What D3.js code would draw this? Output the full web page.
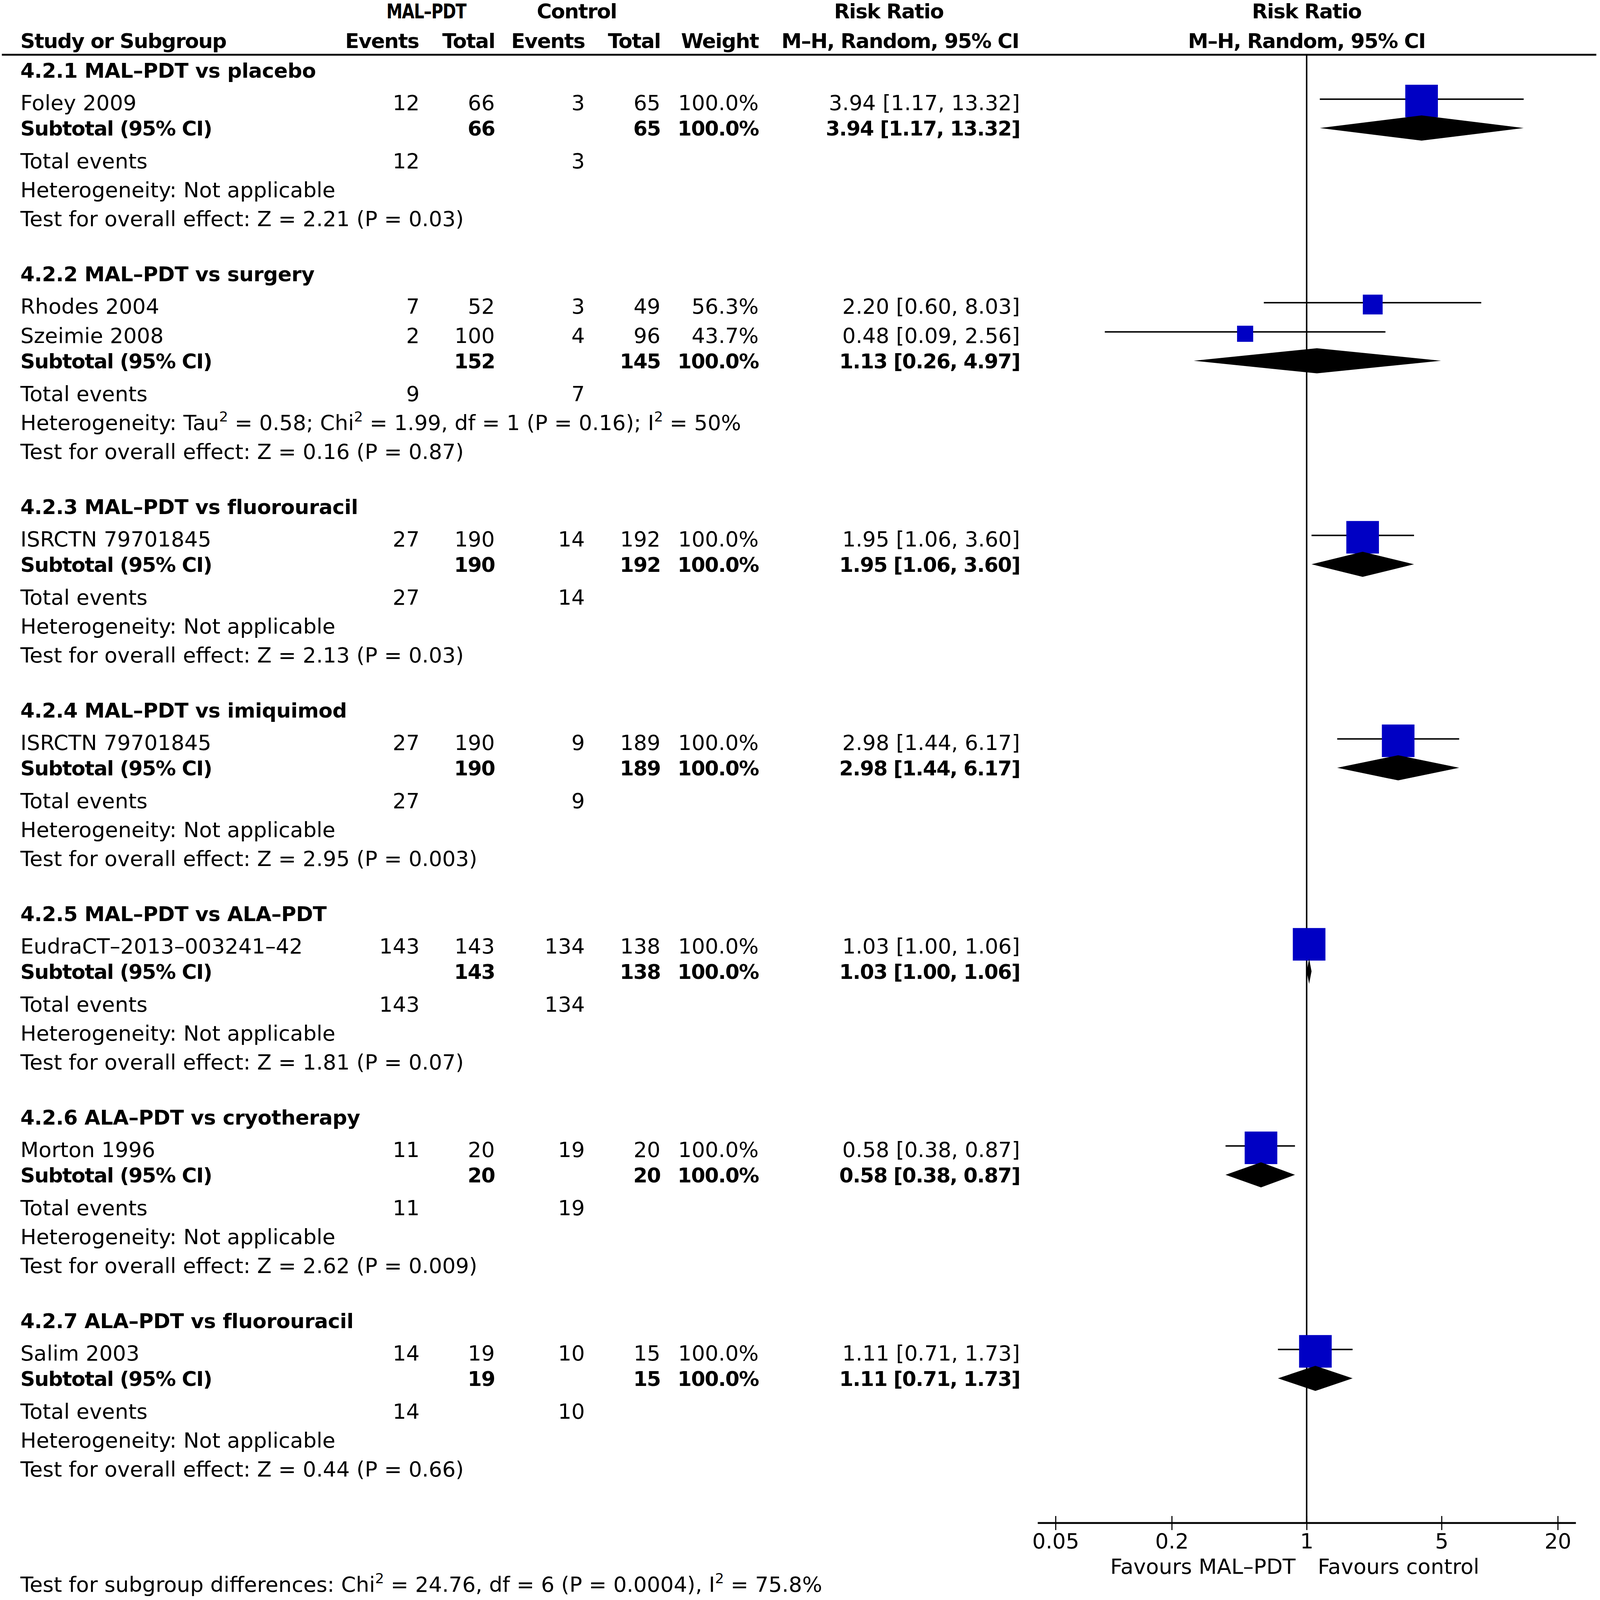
<!DOCTYPE html>
<html>
<head>
<meta charset="utf-8">
<script src="https://cdn.jsdelivr.net/npm/d3@7"></script>
<style>
  html, body { margin: 0; padding: 0; width: 100%; height: 100%; overflow: hidden; background: #fff; }
  svg { display: block; width: 100vw; height: 100vh; }
  text { font-family: "DejaVu Sans", sans-serif; font-size: 57px; fill: #000; }
  .b { font-weight: bold; font-size: 55px; letter-spacing: -1.7px; }
  .title { letter-spacing: -0.45px; }
</style>
</head>
<body>
<script>
// subgroups
const subgroupTitles = [
  '4.2.1 MAL–PDT vs placebo',
  '4.2.2 MAL–PDT vs surgery',
  '4.2.3 MAL–PDT vs fluorouracil',
  '4.2.4 MAL–PDT vs imiquimod',
  '4.2.5 MAL–PDT vs ALA–PDT',
  '4.2.6 ALA–PDT vs cryotherapy',
  '4.2.7 ALA–PDT vs fluorouracil'
];

// studies
const studyNames  = ['Foley 2009', 'Rhodes 2004', 'Szeimie 2008', 'ISRCTN 79701845', 'ISRCTN 79701845', 'EudraCT–2013–003241–42', 'Morton 1996', 'Salim 2003'];
const studyGroup  = [0, 1, 1, 2, 3, 4, 5, 6];
const malEvents   = [12, 7, 2, 27, 27, 143, 11, 14];
const malTotal    = [66, 52, 100, 190, 190, 143, 20, 19];
const ctlEvents   = [3, 3, 4, 14, 9, 134, 19, 10];
const ctlTotal    = [65, 49, 96, 192, 189, 138, 20, 15];
const studyWeight = [100, 56.3, 43.7, 100, 100, 100, 100, 100];
const studyRR     = [3.94, 2.20, 0.48, 1.95, 2.98, 1.03, 0.58, 1.11];
const studyLo     = [1.17, 0.60, 0.09, 1.06, 1.44, 1.00, 0.38, 0.71];
const studyHi     = [13.32, 8.03, 2.56, 3.60, 6.17, 1.06, 0.87, 1.73];

// subtotals
const subRR = [3.94, 1.13, 1.95, 2.98, 1.03, 0.58, 1.11];
const subLo = [1.17, 0.26, 1.06, 1.44, 1.00, 0.38, 0.71];
const subHi = [13.32, 4.97, 3.60, 6.17, 1.06, 0.87, 1.73];

const heterogeneity = [
  'Not applicable',
  'Tau^2 = 0.58; Chi^2 = 1.99, df = 1 (P = 0.16); I^2 = 50%',
  'Not applicable', 'Not applicable', 'Not applicable', 'Not applicable', 'Not applicable'
];
const overallZ = ['2.21', '0.16', '2.13', '2.95', '1.81', '2.62', '0.44'];
const overallP = ['0.03', '0.87', '0.03', '0.003', '0.07', '0.009', '0.66'];

const axisTicks = [0.05, 0.2, 1, 5, 20];
const subgroupTest = 'Test for subgroup differences: Chi^2 = 24.76, df = 6 (P = 0.0004), I^2 = 75.8%';

const width  = 4317;
const height = 4324;

// column anchors
const col = { label: 55, malEv: 1132, malTot: 1335, ctlEv: 1578, ctlTot: 1782, weight: 2047, rr: 2752 };

const svg = d3.select('body')
  .append('svg')
    .attr('viewBox', [0, 0, width, height])
    .attr('preserveAspectRatio', 'none');

svg.append('rect').attr('width', width).attr('height', height).attr('fill', '#fff');

// scales
const x = d3.scaleLog().domain([0.05, 20]).range([2848, 4203]);
const boxSize = d3.scaleLinear().domain([0, 100]).range([9, 88]);

const fmt = (v) => v.toFixed(2);
const ci  = (r, lo, hi) => `${fmt(r)} [${fmt(lo)}, ${fmt(hi)}]`;

// text with ^2 superscripts
function addText(g, str, px, py, anchor, bold) {
  const t = g.append('text')
    .attr('x', px).attr('y', py)
    .attr('text-anchor', anchor || 'start')
    .classed('b', !!bold);
  const parts = str.split('^2');
  parts.forEach((p, i) => {
    if (i > 0) {
      t.append('tspan').attr('dy', -23).style('font-size', '38px').text('2');
      t.append('tspan').attr('dy', 23).text(p);
    } else {
      t.append('tspan').text(p);
    }
  });
  return t;
}

// header
const head = svg.append('g');
addText(head, 'MAL–PDT', 1150, 50, 'middle', true)
  .attr('textLength', 215).attr('lengthAdjust', 'spacingAndGlyphs');
addText(head, 'Control', 1556, 50, 'middle', true);
addText(head, 'Risk Ratio', 2398, 50, 'middle', true);
addText(head, 'Risk Ratio', x(1), 50, 'middle', true);
addText(head, 'Study or Subgroup', col.label, 130, 'start', true);
addText(head, 'Events', 1130, 130, 'end', true);
addText(head, 'Total', 1335, 130, 'end', true);
addText(head, 'Events', 1578, 130, 'end', true);
addText(head, 'Total', 1782, 130, 'end', true);
addText(head, 'Weight', 2047, 130, 'end', true);
addText(head, 'M–H, Random, 95% CI', 2749, 130, 'end', true);
addText(head, 'M–H, Random, 95% CI', x(1), 130, 'middle', true);

svg.append('line')
  .attr('x1', 5).attr('x2', 4307)
  .attr('y1', 148).attr('y2', 148)
  .attr('stroke', '#000').attr('stroke-width', 5);

// axis
const axisY = 4116;

svg.append('line')
  .attr('x1', x(1)).attr('x2', x(1))
  .attr('y1', 150).attr('y2', axisY)
  .attr('stroke', '#000').attr('stroke-width', 4);

// rows
const body = svg.append('g');
const marks = svg.append('g');
let cursor = 210;

subgroupTitles.forEach((title, g) => {
  addText(body, title, col.label, cursor, 'start', true).classed('title', true);

  const idx = studyGroup.map((sg, i) => (sg === g ? i : -1)).filter((i) => i >= 0);
  let y = cursor + 88;

  idx.forEach((i, k) => {
    if (k > 0) y += 79;
    addText(body, studyNames[i], col.label, y);
    addText(body, String(malEvents[i]), col.malEv, y, 'end');
    addText(body, String(malTotal[i]), col.malTot, y, 'end');
    addText(body, String(ctlEvents[i]), col.ctlEv, y, 'end');
    addText(body, String(ctlTotal[i]), col.ctlTot, y, 'end');
    addText(body, studyWeight[i].toFixed(1) + '%', col.weight, y, 'end');
    addText(body, ci(studyRR[i], studyLo[i], studyHi[i]), col.rr, y, 'end');

    // ci line + box
    marks.append('line')
      .attr('x1', x(studyLo[i])).attr('x2', x(studyHi[i]))
      .attr('y1', y - 30).attr('y2', y - 30)
      .attr('stroke', '#000').attr('stroke-width', 4);
    const s = boxSize(studyWeight[i]);
    marks.append('rect')
      .attr('x', x(studyRR[i]) - s / 2).attr('y', y - 25 - s / 2)
      .attr('width', s).attr('height', s)
      .attr('fill', '#0000c4');
  });

  // subtotal
  const ys = y + 68;
  const n1 = d3.sum(idx, (i) => malTotal[i]);
  const n2 = d3.sum(idx, (i) => ctlTotal[i]);
  addText(body, 'Subtotal (95% CI)', col.label, ys, 'start', true);
  addText(body, String(n1), col.malTot, ys, 'end', true);
  addText(body, String(n2), col.ctlTot, ys, 'end', true);
  addText(body, '100.0%', col.weight, ys, 'end', true);
  addText(body, ci(subRR[g], subLo[g], subHi[g]), col.rr, ys, 'end', true);

  const dy = ys - 20;
  marks.append('path')
    .attr('d', d3.line()([
      [x(subLo[g]), dy], [x(subRR[g]), dy - 34],
      [x(subHi[g]), dy], [x(subRR[g]), dy + 34]
    ]) + 'Z')
    .attr('fill', '#000');

  // total events
  const yt = ys + 89;
  addText(body, 'Total events', col.label, yt);
  addText(body, String(d3.sum(idx, (i) => malEvents[i])), col.malEv, yt, 'end');
  addText(body, String(d3.sum(idx, (i) => ctlEvents[i])), col.ctlEv, yt, 'end');

  const yh = yt + 78;
  addText(body, 'Heterogeneity: ' + heterogeneity[g], col.label, yh);

  const yz = yh + 78;
  addText(body, `Test for overall effect: Z = ${overallZ[g]} (P = ${overallP[g]})`, col.label, yz);

  cursor = yz + 149;
});

const axis = svg.append('g')
  .attr('transform', `translate(0,${axisY})`)
  .call(d3.axisBottom(x).tickValues(axisTicks).tickFormat((d) => String(d)).tickSize(19));

axis.attr('font-size', null).attr('font-family', null);
axis.select('.domain').remove();
axis.selectAll('.tick line').attr('y1', -19).attr('y2', 19).attr('stroke', '#000').attr('stroke-width', 3);
axis.selectAll('.tick text').attr('y', 69).attr('dy', 0).attr('fill', '#000');

svg.append('line')
  .attr('x1', 2800).attr('x2', 4252)
  .attr('y1', axisY).attr('y2', axisY)
  .attr('stroke', '#000').attr('stroke-width', 5);

addText(svg, 'Favours MAL–PDT', x(1) - 30, 4253, 'end');
addText(svg, 'Favours control', x(1) + 30, 4253, 'start');

addText(svg, subgroupTest, col.label, 4302);
</script>
</body>
</html>
